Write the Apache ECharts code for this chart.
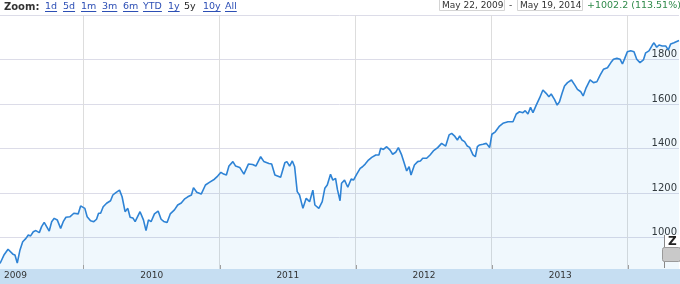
<!DOCTYPE html>
<html><head><meta charset="utf-8">
<script src="https://cdn.jsdelivr.net/npm/echarts@6/dist/echarts.min.js"></script>
<style>html,body{margin:0;padding:0;background:#fff}#c{width:680px;height:284px}</style>
</head><body><div id="c"></div><script>
// time as decimal year
const dates = [
2009.386, 2009.415, 2009.445, 2009.459, 2009.481, 2009.496, 2009.513, 2009.533, 2009.553, 2009.577,
2009.594, 2009.611, 2009.631, 2009.650, 2009.675, 2009.692, 2009.711, 2009.729, 2009.748, 2009.766,
2009.785, 2009.807, 2009.832, 2009.851, 2009.871, 2009.900, 2009.929, 2009.961, 2009.979, 2009.993,
2010.010, 2010.027, 2010.052, 2010.076, 2010.096, 2010.111, 2010.126, 2010.145, 2010.170, 2010.199,
2010.216, 2010.238, 2010.265, 2010.284, 2010.306, 2010.326, 2010.343, 2010.363, 2010.380, 2010.416,
2010.441, 2010.460, 2010.478, 2010.497, 2010.522, 2010.549, 2010.571, 2010.590, 2010.615, 2010.638,
2010.669, 2010.693, 2010.719, 2010.742, 2010.767, 2010.794, 2010.809, 2010.833, 2010.866, 2010.897,
2010.926, 2010.963, 2010.987, 2011.011, 2011.031, 2011.051, 2011.070, 2011.099, 2011.119, 2011.149,
2011.180, 2011.213, 2011.244, 2011.268, 2011.303, 2011.326, 2011.364, 2011.384, 2011.408, 2011.450,
2011.464, 2011.481, 2011.496, 2011.516, 2011.536, 2011.553, 2011.572, 2011.589, 2011.614, 2011.638,
2011.663, 2011.687, 2011.702, 2011.731, 2011.756, 2011.775, 2011.793, 2011.817, 2011.834, 2011.854,
2011.868, 2011.887, 2011.898, 2011.920, 2011.944, 2011.969, 2011.986, 2012.010, 2012.035, 2012.052,
2012.072, 2012.096, 2012.120, 2012.150, 2012.173, 2012.186, 2012.206, 2012.230, 2012.255, 2012.274,
2012.296, 2012.316, 2012.340, 2012.360, 2012.377, 2012.395, 2012.409, 2012.434, 2012.458, 2012.478,
2012.495, 2012.524, 2012.549, 2012.573, 2012.605, 2012.634, 2012.664, 2012.689, 2012.708, 2012.728,
2012.750, 2012.767, 2012.784, 2012.803, 2012.823, 2012.840, 2012.865, 2012.882, 2012.897, 2012.913,
2012.938, 2012.963, 2012.987, 2013.004, 2013.029, 2013.060, 2013.085, 2013.122, 2013.159, 2013.183,
2013.207, 2013.232, 2013.249, 2013.269, 2013.288, 2013.306, 2013.330, 2013.354, 2013.379, 2013.403,
2013.423, 2013.440, 2013.464, 2013.484, 2013.501, 2013.520, 2013.538, 2013.560, 2013.589, 2013.614,
2013.633, 2013.658, 2013.675, 2013.695, 2013.726, 2013.751, 2013.776, 2013.800, 2013.824, 2013.854,
2013.879, 2013.898, 2013.923, 2013.947, 2013.964, 2013.981, 2014.000, 2014.025, 2014.049, 2014.069,
2014.093, 2014.118, 2014.135, 2014.159, 2014.184, 2014.196, 2014.216, 2014.233, 2014.257, 2014.282,
2014.301, 2014.319, 2014.343, 2014.380
];
const values = [
883, 921, 947, 944, 925, 921, 885, 944, 981, 996,
1011, 1007, 1026, 1031, 1022, 1049, 1068, 1049, 1029, 1071,
1086, 1079, 1041, 1071, 1091, 1093, 1109, 1106, 1142, 1146,
1131, 1093, 1075, 1071, 1082, 1109, 1109, 1138, 1154, 1165,
1191, 1202, 1213, 1183, 1116, 1131, 1091, 1088, 1071, 1116,
1079, 1031, 1079, 1071, 1106, 1119, 1082, 1072, 1067, 1106,
1124, 1146, 1155, 1172, 1183, 1191, 1224, 1203, 1195, 1236,
1248, 1262, 1276, 1293, 1285, 1281, 1321, 1341, 1321, 1315,
1285, 1330, 1328, 1321, 1363, 1342, 1333, 1330, 1281, 1271,
1272, 1336, 1341, 1321, 1344, 1318, 1206, 1191, 1131, 1176,
1161, 1213, 1146, 1131, 1161, 1221, 1236, 1284, 1258, 1266,
1215, 1165, 1244, 1258, 1226, 1263, 1258, 1285, 1311, 1318,
1330, 1348, 1360, 1371, 1371, 1401, 1396, 1408, 1393, 1374,
1383, 1404, 1371, 1333, 1299, 1318, 1281, 1326, 1341, 1344,
1356, 1356, 1371, 1389, 1404, 1423, 1411, 1461, 1468, 1457,
1438, 1457, 1438, 1431, 1411, 1405, 1371, 1363, 1408, 1416,
1419, 1423, 1404, 1464, 1475, 1501, 1513, 1520, 1520, 1555,
1565, 1561, 1570, 1555, 1585, 1561, 1595, 1626, 1663, 1648,
1633, 1645, 1621, 1595, 1610, 1648, 1681, 1696, 1708, 1685,
1666, 1655, 1636, 1670, 1708, 1696, 1700, 1730, 1756, 1763,
1786, 1801, 1805, 1801, 1780, 1805, 1835, 1839, 1835, 1801,
1786, 1798, 1830, 1839, 1865, 1875, 1855, 1865, 1861, 1861,
1843, 1870, 1875, 1885
];
const xRange = [2009.386, 2014.380];
const yearTicks = [2010, 2011, 2012, 2013, 2014];
const yearLabelPos = [2009.5, 2010.5, 2011.5, 2012.5, 2013.5];
const yRange = [858.4, 2000];
const yGridValues = [1000, 1200, 1400, 1600, 1800, 2000];
const yLabelValues = [1000, 1200, 1400, 1600, 1800];
const zoomButtons = ['1d', '5d', '1m', '3m', '6m', 'YTD', '1y', '5y', '10y', 'All'];
const activeButton = '5y';
const rangeFrom = 'May 22, 2009';
const rangeTo = 'May 19, 2014';
const changeText = '+1002.2 (113.51%)';

const FONT = '"DejaVu Sans", Verdana, sans-serif';
const chart = echarts.init(document.getElementById('c'), null, {renderer: 'canvas'});
const seriesData = dates.map((d, i) => [d, values[i]]);

const ctx = document.createElement('canvas').getContext('2d');
function tw(text, font) { ctx.font = font; return ctx.measureText(text).width; }

const btnX = [45, 63, 81, 102, 123, 143, 168, 184, 203, 225];
const graphics = [];
graphics.push({type: 'text', x: 4, y: 7, style: {text: 'Zoom:', font: 'bold 10px ' + FONT, fill: '#333', textVerticalAlign: 'middle'}});
const linkFont = '9.5px ' + FONT;
const boxFont = '9px ' + FONT;
zoomButtons.forEach((b, i) => {
  const active = b === activeButton;
  graphics.push({type: 'text', x: btnX[i], y: 7, style: {text: b, font: linkFont, fill: active ? '#222' : '#2d4fb5', textVerticalAlign: 'middle'}});
  if (!active) {
    graphics.push({type: 'line', shape: {x1: btnX[i], y1: 11.5, x2: btnX[i] + tw(b, linkFont), y2: 11.5}, style: {stroke: '#2d4fb5', lineWidth: 1}});
  }
});
graphics.push({type: 'rect', shape: {x: 439.5, y: -4.5, width: 65, height: 15}, style: {fill: '#fff', stroke: '#d4d4d4'}});
graphics.push({type: 'rect', shape: {x: 517.5, y: -4.5, width: 65, height: 15}, style: {fill: '#fff', stroke: '#d4d4d4'}});
graphics.push({type: 'text', x: 442, y: 5.5, style: {text: rangeFrom, font: boxFont, fill: '#333', textVerticalAlign: 'middle'}});
graphics.push({type: 'text', x: 509, y: 5.5, style: {text: '-', font: boxFont, fill: '#333', textVerticalAlign: 'middle'}});
graphics.push({type: 'text', x: 520, y: 5.5, style: {text: rangeTo, font: boxFont, fill: '#333', textVerticalAlign: 'middle'}});
graphics.push({type: 'text', x: 587, y: 5.5, style: {text: changeText, font: linkFont, fill: '#2f8a4a', textVerticalAlign: 'middle'}});
// small handle icon bottom right
graphics.push({type: 'line', z: 20, shape: {x1: 664.5, y1: 235, x2: 664.5, y2: 268}, style: {stroke: '#888', lineWidth: 1}});
graphics.push({type: 'rect', z: 20, shape: {x: 665, y: 235, width: 15, height: 12}, style: {fill: '#fff'}});
graphics.push({type: 'text', z: 21, x: 668, y: 241.5, style: {text: 'Z', font: 'bold 12px ' + FONT, fill: '#222', textVerticalAlign: 'middle'}});
graphics.push({type: 'rect', z: 20, shape: {x: 662.5, y: 247.5, width: 18, height: 14, r: 2}, style: {fill: '#c9c9c9', stroke: '#9a9a9a'}});

chart.setOption({
  animation: false,
  backgroundColor: '#fff',
  grid: [
    {left: 0, right: 0, top: 15, bottom: 15},
    {left: 0, right: 0, top: 269, height: 15, show: true, backgroundColor: '#c6def2', borderWidth: 0}
  ],
  xAxis: [
    {type: 'value', gridIndex: 0, min: xRange[0], max: xRange[1],
     axisLine: {show: false, onZero: false}, axisLabel: {show: false},
     axisTick: {show: false, customValues: yearTicks},
     splitLine: {show: true, lineStyle: {color: '#dddddd', width: 1}}},
    {type: 'value', gridIndex: 1, min: xRange[0], max: xRange[1], position: 'top', z: 10,
     axisLine: {show: false, onZero: false},
     axisTick: {show: true, customValues: yearTicks, length: 4, lineStyle: {color: '#a0a0a0'}},
     axisLabel: {show: true, inside: true, customValues: yearLabelPos, margin: 2,
       formatter: v => String(Math.floor(v)), fontSize: 9, fontFamily: FONT, color: '#333'},
     splitLine: {show: false}}
  ],
  yAxis: [
    {type: 'value', gridIndex: 0, position: 'right', min: yRange[0], max: yRange[1],
     axisLine: {show: false, onZero: false},
     axisTick: {show: false, customValues: yGridValues},
     axisLabel: {show: true, inside: true, customValues: yLabelValues, margin: 2,
       formatter: v => String(v),
       fontSize: 10, fontFamily: FONT, color: '#333', verticalAlign: 'bottom'},
     splitLine: {show: true, lineStyle: {color: '#dcdce8', width: 1}}},
    {type: 'value', gridIndex: 1, show: false, min: 0, max: 1}
  ],
  graphic: graphics,
  series: [{
    type: 'line', xAxisIndex: 0, yAxisIndex: 0, data: seriesData,
    showSymbol: false, symbol: 'none', smooth: false,
    lineStyle: {color: '#2e83d5', width: 1.6},
    areaStyle: {color: 'rgba(40,150,225,0.1)'},
    z: 2
  }]
});
</script></body></html>
